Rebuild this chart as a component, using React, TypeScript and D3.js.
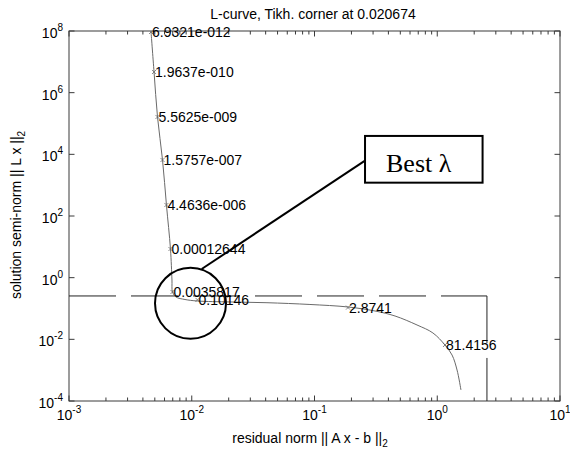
import React from 'react';
import * as d3 from 'd3';

const titleText = 'L-curve, Tikh. corner at 0.020674';
const xLabelMain = 'residual norm || A x - b ||';
const yLabelMain = 'solution semi-norm || L x ||';

// L-curve (residual norm rho, solution semi-norm eta)
const rhoCurve = [0.00466, 0.00493, 0.00526, 0.00578, 0.00622, 0.00671, 0.0069, 0.00697, 0.00744, 0.00881, 0.01114, 0.0205, 0.041, 0.0918, 0.1875, 0.311, 0.453, 0.684, 0.922, 1.156, 1.32, 1.45, 1.56];
const etaCurve = [9.3e7, 4.69e6, 1.63e5, 6560, 228, 8.51, 0.84, 0.344, 0.236, 0.196, 0.175, 0.163, 0.154, 0.135, 0.112, 0.083, 0.0571, 0.0292, 0.0161, 0.00655, 0.0031, 0.00101, 0.000228];

// labelled regularization parameters
const markerRho = [0.00466, 0.00493, 0.00526, 0.00578, 0.00622, 0.00671, 0.00697, 0.01114, 0.1875, 1.156];
const markerEta = [9.3e7, 4.69e6, 1.63e5, 6560, 228, 8.51, 0.344, 0.19, 0.107, 0.00655];
const markerLabels = ['6.9321e-012', '1.9637e-010', '5.5625e-009', '1.5757e-007', '4.4636e-006', '0.00012644', '0.0035817', '0.10146', '2.8741', '81.4156'];

// corner
const cornerRho = 2.54;
const cornerEta = 0.255;

// axes
const xTickExps = [-3, -2, -1, 0, 1];
const yTickExps = [-4, -2, 0, 2, 4, 6, 8];

// annotation (data coords)
const circleRho = 0.00977;
const circleEta = 0.1476;
const boxRho = [0.258, 2.34];
const boxEta = [3.95e4, 1205];
const pointerFrom = [0.258, 6220];
const pointerTo = [0.01205, 1.91];
const annotationText = 'Best λ';

const W = 570, H = 451;
const L = 69, R = 560, T = 31, B = 401;

export default function App() {
  const x = d3.scaleLog().domain([1e-3, 10]).range([L, R]);
  const y = d3.scaleLog().domain([1e-4, 1e8]).range([B, T]);

  const line = d3.line<number>()
    .x((_, i) => x(rhoCurve[i]))
    .y((_, i) => y(etaCurve[i]))
    .curve(d3.curveCatmullRom.alpha(0.5));

  const majorX = xTickExps.map(e => Math.pow(10, e));
  const minorX: number[] = [];
  for (let e = -3; e < 1; e++) for (let m = 2; m <= 9; m++) minorX.push(m * Math.pow(10, e));
  const majorY = yTickExps.map(e => Math.pow(10, e));

  const font = '"Liberation Sans", Arial, Helvetica, sans-serif';
  const frame = '#3a3a3a';
  const curveColor = '#6a6a6a';

  const bx0 = x(boxRho[0]), bx1 = x(boxRho[1]);
  const by0 = y(boxEta[0]), by1 = y(boxEta[1]);

  return (
    <svg width={W} height={H} style={{ position: 'absolute', left: 0, top: 0, background: '#fff' }} fontFamily={font}>
      <rect x={0} y={0} width={W} height={H} fill="#fff" />
      <defs>
        <clipPath id="plotClip"><rect x={L} y={T} width={R - L} height={B - T} /></clipPath>
      </defs>

      {/* frame */}
      <rect x={L} y={T} width={R - L} height={B - T} fill="none" stroke={frame} strokeWidth={1} />

      {/* x ticks */}
      {majorX.map((v, i) => (
        <g key={'mx' + i}>
          <line x1={x(v)} x2={x(v)} y1={B} y2={B - 5.5} stroke={frame} />
          <line x1={x(v)} x2={x(v)} y1={T} y2={T + 5.5} stroke={frame} />
        </g>
      ))}
      {minorX.map((v, i) => (
        <g key={'nx' + i}>
          <line x1={x(v)} x2={x(v)} y1={B} y2={B - 3.5} stroke={frame} />
          <line x1={x(v)} x2={x(v)} y1={T} y2={T + 3.5} stroke={frame} />
        </g>
      ))}
      {/* y ticks */}
      {majorY.map((v, i) => (
        <g key={'my' + i}>
          <line x1={L} x2={L + 5.5} y1={y(v)} y2={y(v)} stroke={frame} />
          <line x1={R} x2={R - 5.5} y1={y(v)} y2={y(v)} stroke={frame} />
        </g>
      ))}

      {/* x tick labels */}
      {xTickExps.map((e, i) => (
        <text key={'xl' + i} x={x(Math.pow(10, e))} y={420} textAnchor="middle" fontSize={14} fill="#000">
          10<tspan dy={-7} fontSize={10}>{String(e)}</tspan>
        </text>
      ))}
      {/* y tick labels */}
      {yTickExps.map((e, i) => (
        <text key={'yl' + i} x={63} y={y(Math.pow(10, e)) + 7} textAnchor="end" fontSize={14} fill="#000">
          10<tspan dy={-7} fontSize={10}>{String(e)}</tspan>
        </text>
      ))}

      {/* title */}
      <text x={313} y={19} textAnchor="middle" fontSize={14} fill="#000">{titleText}</text>
      {/* x label */}
      <text x={310} y={443} textAnchor="middle" fontSize={14} fill="#000">
        {xLabelMain}<tspan dy={4} fontSize={10}>2</tspan>
      </text>
      {/* y label */}
      <text transform={`translate(21,215) rotate(-90)`} textAnchor="middle" fontSize={14} fill="#000">
        {yLabelMain}<tspan dy={4} fontSize={10}>2</tspan>
      </text>

      <g clipPath="url(#plotClip)">
        {/* corner lines */}
        <line x1={L} x2={x(cornerRho)} y1={y(cornerEta)} y2={y(cornerEta)} stroke="#222" strokeWidth={1} strokeDasharray="47 15" />
        <line x1={x(cornerRho)} x2={x(cornerRho)} y1={y(cornerEta)} y2={B} stroke="#222" strokeWidth={1} strokeDasharray="47 15" />

        {/* curve */}
        <path d={line(rhoCurve) || ''} fill="none" stroke={curveColor} strokeWidth={1} />
        {markerRho.map((r, i) => {
          const cx = x(r), cy = y(markerEta[i]);
          return (
            <g key={'mk' + i} stroke={curveColor} strokeWidth={0.8}>
              <line x1={cx - 2} x2={cx + 2} y1={cy - 2} y2={cy + 2} />
              <line x1={cx - 2} x2={cx + 2} y1={cy + 2} y2={cy - 2} />
            </g>
          );
        })}
      </g>
      {markerRho.map((r, i) => (
        <text key={'lb' + i} x={x(r) + 1} y={y(markerEta[i]) + 5} fontSize={14} fill="#000">{markerLabels[i]}</text>
      ))}

      {/* annotation */}
      <circle cx={x(circleRho)} cy={y(circleEta)} r={35.5} fill="none" stroke="#000" strokeWidth={2} />
      <line x1={x(pointerFrom[0])} y1={y(pointerFrom[1])} x2={x(pointerTo[0])} y2={y(pointerTo[1])} stroke="#000" strokeWidth={2} />
      <rect x={bx0} y={by0} width={bx1 - bx0} height={by1 - by0} fill="#fff" stroke="#000" strokeWidth={2} />
      <text x={bx0 + 21} y={by0 + 36} fontSize={26} fontFamily='"Liberation Serif", "Times New Roman", serif' fill="#000">{annotationText}</text>
    </svg>
  );
}
